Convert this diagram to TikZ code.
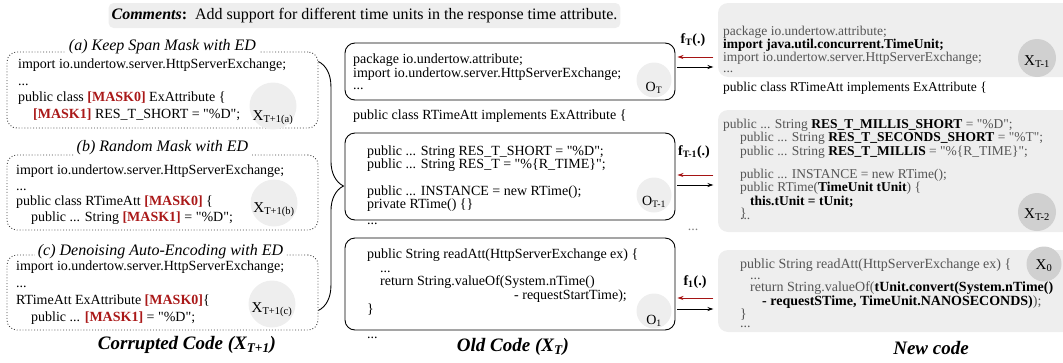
\documentclass[tikz,border=0pt]{standalone}
\usepackage{fontspec}
\setmainfont{Liberation Serif}[Ligatures=TeXOff]
\usetikzlibrary{arrows.meta,decorations.pathreplacing,calc}

\definecolor{maskred}{RGB}{170,25,25}
\definecolor{arrred}{RGB}{165,20,20}
\definecolor{boxgray}{RGB}{238,238,238}
\definecolor{tagdark}{RGB}{208,208,208}
\definecolor{oldtxt}{RGB}{85,85,85}

\newcommand{\mask}[1]{\textcolor{maskred}{\textbf{#1}}}
\newcommand{\added}[1]{\textcolor{black}{\textbf{#1}}}
\newcommand{\codesize}[2]{\fontsize{#1}{#2}\selectfont}
\newcommand{\tagtxt}[2]{\raisebox{-#1pt}[0pt][0pt]{#2}}

\tikzset{
  corrupt/.style={draw=black!75, dotted, line width=0.9pt, rounded corners=10pt, inner sep=0pt, minimum width=311pt},
  oldbox/.style={draw, line width=0.9pt, rounded corners=10pt, inner sep=0pt, minimum width=330pt},
  newbox/.style={fill=boxgray, rounded corners=10pt, inner sep=0pt, minimum width=357pt},
  code/.style={anchor=north west, align=left, inner sep=0pt},
  oneline/.style={anchor=base west, inner sep=0pt, font=\codesize{14}{16}},
  title/.style={fill=white, inner sep=3pt, font=\itshape\codesize{16}{18}},
  caption/.style={font=\bfseries\itshape\codesize{19}{22}},
  tagl/.style={circle, fill=boxgray, inner sep=0pt, minimum size=47pt, font=\codesize{15}{16}},
  tagm/.style={circle, fill=boxgray, inner sep=0pt, minimum size=35pt, font=\codesize{14}{16}},
  tagr/.style={circle, fill=tagdark, inner sep=0pt, minimum size=38pt, font=\codesize{15}{16}},
  flabel/.style={font=\bfseries\codesize{14}{16}},
  redarr/.style={draw=arrred, line width=0.9pt, -{Stealth[length=6pt,width=4pt]}},
  blkarr/.style={draw=black, line width=0.9pt, -{Stealth[length=6pt,width=4pt]}}
}

\begin{document}
\begin{tikzpicture}[x=1pt, y=-1pt]
  \useasboundingbox (0,0) rectangle (1063,362);

  \node[fill=boxgray, rounded corners=5pt, inner xsep=3pt, minimum height=25pt, font=\codesize{16}{18}] (cmt) at (364.5,15.5)
    {\textbf{\textit{Comments}:}\ \ Add support for different time units in the response time attribute.};

  % corrupted code
  \node[corrupt, minimum height=76pt] (ksm) at (162.5,90) {};
  \node[corrupt, minimum height=75pt] (rm) at (162.5,192.5) {};
  \node[corrupt, minimum height=75pt] (dae) at (162.5,292.5) {};
  \node[title] (ksmt) at ([yshift=5pt]ksm.north) {(a) Keep Span Mask with ED};
  \node[title] (rmt) at ([yshift=7pt]rm.north) {(b) Random Mask with ED};
  \node[title] (daet) at ([xshift=-2pt,yshift=3pt]dae.north) {(c) Denoising Auto-Encoding with ED};

  \node[code, font=\codesize{14}{16.5}] (ksmc) at (18,59) {import io.undertow.server.HttpServerExchange;\\
    ...\\
    public class \mask{[MASK0]} ExAttribute \{\\
    \hspace*{15pt}\mask{[MASK1]} RES\_T\_SHORT = "\%D";};
  \node[code, font=\codesize{14}{15.5}] (rmc) at (16,165) {import io.undertow.server.HttpServerExchange;\\
    ...\\
    public class RTimeAtt \mask{[MASK0]} \{\\
    \hspace*{15pt}public ... String \mask{[MASK1]} = "\%D";};
  \node[code, font=\codesize{14}{17}] (daec) at (16,261) {import io.undertow.server.HttpServerExchange;\\
    ...\\
    RTimeAtt ExAttribute \mask{[MASK0]}\{\\
    \hspace*{15pt}public ... \mask{[MASK1]} = "\%D";};

  \node[tagl] (xa) at (273,106) {\tagtxt{14}{X\textsubscript{T+1(a)}}};
  \node[tagl] (xb) at (274,203) {\tagtxt{9}{X\textsubscript{T+1(b)}}};
  \node[tagl] (xc) at (272,304) {\tagtxt{8}{X\textsubscript{T+1(c)}}};

  \draw[decorate, decoration={brace, amplitude=25pt}, line width=0.9pt]
    ([yshift=-10pt]ksm.north east) -- ([yshift=20pt]dae.south east);

  \node[caption] (capc) at (187,345) {Corrupted Code (X\textsubscript{T+1})};

  % old code
  \node[oldbox, minimum height=57pt] (ot) at (510,71.5) {};
  \node[oldbox, minimum height=87pt] (ot1) at (510,176.5) {};
  \node[oldbox, minimum height=92pt] (o1) at (510,284) {};

  \node[code, font=\codesize{14}{12}] (otc) at (353,53.5) {package io.undertow.attribute;\\
    import io.undertow.server.HttpServerExchange;\\
    ...};
  \node[oneline] (clso) at (353,119) {public class RTimeAtt implements ExAttribute \{};
  \node[code, font=\codesize{14}{13.25}] (ot1c) at (367,145.5) {public ... String RES\_T\_SHORT = "\%D";\\
    public ... String RES\_T = "\%\{R\_TIME\}";\\
    \mbox{}\\
    public ... INSTANCE = new RTime();\\
    private RTime() \{\}};
  \node[oneline] (dotso1) at (367,224) {...};
  \node[code, font=\codesize{14}{13.75}] (o1c) at (367,248.5) {public String readAtt(HttpServerExchange ex) \{\\
    \hspace*{13pt}...\\
    \hspace*{13pt}return String.valueOf(System.nTime()\\
    \hspace*{147pt}- requestStartTime);\\
    \}};
  \node[oneline] (dotso2) at (367,338) {...};

  \node[tagm] (tot) at (654,80) {\tagtxt{11}{O\textsubscript{T}}};
  \node[tagm] (tot1) at (654,195) {\tagtxt{10}{O\textsubscript{T-1}}};
  \node[tagm] (to1) at (654,311) {\tagtxt{13}{O\textsubscript{1}}};

  \node[caption] (capo) at (513,347) {Old Code (X\textsubscript{T})};

  % new code
  \node[newbox, minimum height=74pt] (xt1) at (896.5,40) {};
  \node[newbox, minimum height=122pt] (xt2) at (896.5,171) {};
  \node[newbox, minimum height=82pt] (x0) at (896.5,291) {};

  \node[code, text=oldtxt, font=\codesize{13.5}{11}] (xt1c) at (723,25.5) {package io.undertow.attribute;\\
    \added{import java.util.concurrent.TimeUnit;}\\
    import io.undertow.server.HttpServerExchange;\\
    ...};
  \node[oneline, font=\codesize{13.5}{16}] (clsn) at (723,91) {public class RTimeAtt implements ExAttribute \{};
  \node[code, text=oldtxt, font=\codesize{13.5}{11.8}] (xt2c) at (723,119) {public ... String \added{RES\_T\_MILLIS\_SHORT} = "\%D";\\
    \hspace*{17pt}public ... String \added{RES\_T\_SECONDS\_SHORT} = "\%T";\\
    \hspace*{17pt}public ... String \added{RES\_T\_MILLIS} = "\%\{R\_TIME\}";\\
    \mbox{}\\
    \hspace*{17pt}public ... INSTANCE = new RTime();\\
    \hspace*{17pt}public RTime(\added{TimeUnit tUnit}) \{\\
    \hspace*{27pt}\added{this.tUnit = tUnit;}\\
    \hspace*{17pt}\}};
  \node[oneline, text=oldtxt, font=\codesize{13.5}{16}] (dotsn1) at (740,219) {...};
  \node[code, text=oldtxt, font=\codesize{14}{11.5}] (x0c) at (740,258.5) {public String readAtt(HttpServerExchange ex) \{\\
    \hspace*{10pt}...\\
    \hspace*{10pt}return String.valueOf(\added{tUnit.convert(System.nTime()}\\
    \hspace*{22pt}\added{- requestSTime, TimeUnit.NANOSECONDS)});\\
    \}};
  \node[oneline, text=oldtxt, font=\codesize{14}{16}] (dotsn2) at (740,327) {...};

  \node[tagr] (txt1) at (1037,58) {\tagtxt{7}{X\textsubscript{T-1}}};
  \node[tagr] (txt2) at (1037,212) {\tagtxt{6}{X\textsubscript{T-2}}};
  \node[tagr, minimum size=35pt] (tx0) at (1044,264) {\tagtxt{5}{X\textsubscript{0}}};

  \node[caption] (capn) at (931,348) {New code};

  % steps
  \foreach \n/\r/\b in {ot/-14.5/-4.5, ot1/-1.5/8.5, o1/14/25} {
    \draw[redarr] ($(\n.east)+(38,\r)$) -- ($(\n.east)+(2,\r)$);
    \draw[blkarr] ($(\n.east)+(2,\b)$) -- ($(\n.east)+(38,\b)$);
  }
  \node[flabel] (ft) at (693,40) {f\textsubscript{T}(.)};
  \node[flabel] (ft1) at (694,152) {f\textsubscript{T-1}(.)};
  \node[flabel] (f1) at (695,282) {f\textsubscript{1}(.)};
  \node[text=gray, font=\codesize{14}{16}] (fdots) at (693,230) {...};
\end{tikzpicture}
\end{document}
